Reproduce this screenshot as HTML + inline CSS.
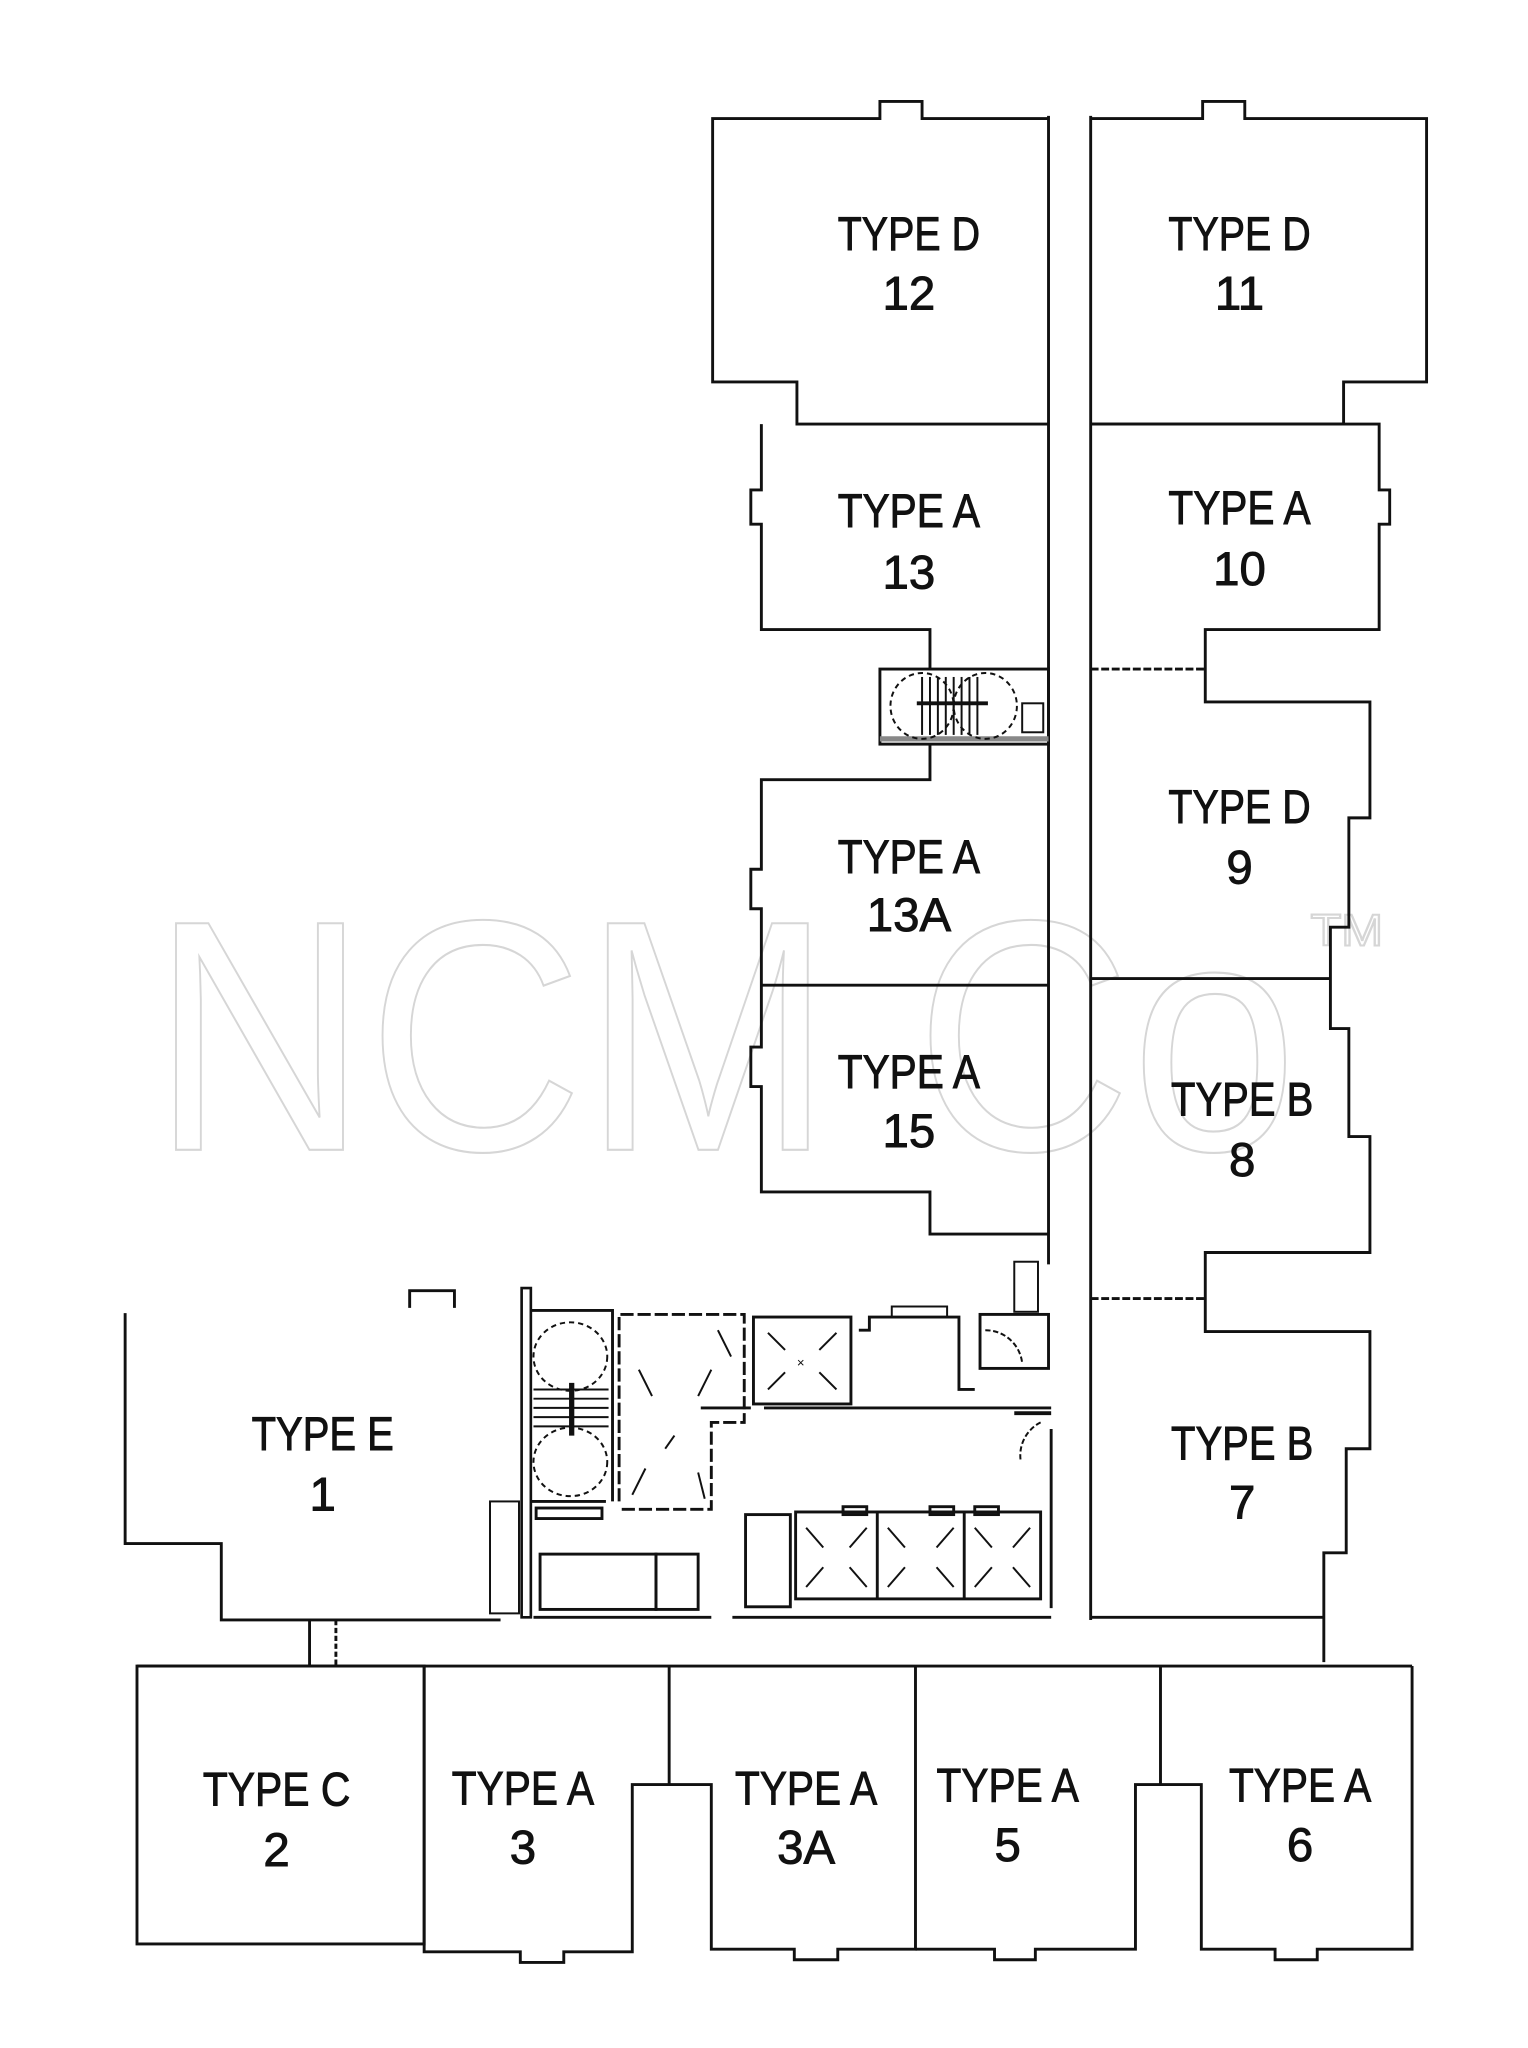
<!DOCTYPE html>
<html><head><meta charset="utf-8"><style>
html,body{margin:0;padding:0;background:#fff;}
svg{display:block;}
text{font-family:"Liberation Sans",sans-serif;}
</style></head><body>
<svg width="1528" height="2048" viewBox="0 0 1160 1555" preserveAspectRatio="none" xmlns="http://www.w3.org/2000/svg">
<rect width="1160" height="1555" fill="#fff"/>
<!-- watermark -->
<g fill="#fff" stroke="#d6d6d6" stroke-width="1.6">
<text x="115" y="873" font-size="250" textLength="870" lengthAdjust="spacingAndGlyphs">NCM Co</text>
<text x="995" y="718" font-size="34" textLength="55" lengthAdjust="spacingAndGlyphs">TM</text>
</g>
<g fill="none" stroke="#111" stroke-width="2.2" stroke-linejoin="miter">
<!-- corridor -->
<line x1="796" y1="88" x2="796" y2="960"/>
<line x1="828" y1="88" x2="828" y2="1230"/>
<!-- Type D 12 -->
<polyline points="796,90 700,90 700,77 668,77 668,90 541,90 541,290 605,290 605,322 796,322"/>
<!-- Type D 11 -->
<polyline points="828,90 913,90 913,77 945,77 945,90 1083,90 1083,290 1020,290 1020,322 828,322"/>
<!-- Type A 13 -->
<polyline points="578,322 578,372 570,372 570,398 578,398 578,478 706,478 706,508"/>
<!-- stair -->
<rect x="668" y="508" width="128" height="57"/>
<line x1="668" y1="561" x2="796" y2="561" stroke="#888" stroke-width="4"/>
<ellipse cx="700" cy="536" rx="24" ry="25" stroke-dasharray="4,3" stroke-width="1.5"/>
<ellipse cx="748" cy="536" rx="24" ry="25" stroke-dasharray="4,3" stroke-width="1.5"/>
<g stroke-width="1.5"><line x1="700" y1="514" x2="700" y2="558"/><line x1="706" y1="514" x2="706" y2="558"/><line x1="712" y1="514" x2="712" y2="558"/><line x1="718" y1="514" x2="718" y2="558"/><line x1="724" y1="514" x2="724" y2="558"/><line x1="730" y1="514" x2="730" y2="558"/><line x1="736" y1="514" x2="736" y2="558"/><line x1="742" y1="514" x2="742" y2="558"/></g>
<line x1="696" y1="534" x2="750" y2="534" stroke-width="3"/>
<rect x="776" y="534" width="16" height="22" stroke-width="1.5"/>
<!-- Type A 13A / 15 -->
<polyline points="706,565 706,592 578,592 578,660 570,660 570,690 578,690 578,795 570,795 570,825 578,825 578,905 706,905 706,937 796,937"/>
<line x1="578" y1="748" x2="796" y2="748"/>
<!-- Type A 10, D9, B8, B7 -->
<polyline points="828,322 1047,322 1047,372 1055,372 1055,398 1047,398 1047,478 915,478 915,533 1040,533 1040,621 1024,621 1024,704 1010,704 1010,781 1024,781 1024,863 1040,863 1040,951 915,951 915,1011 1040,1011 1040,1100 1022,1100 1022,1179 1005,1179 1005,1262"/>
<line x1="828" y1="1228" x2="1005" y2="1228"/>
<line x1="828" y1="508" x2="915" y2="508" stroke-dasharray="6,2"/>
<line x1="828" y1="743" x2="1010" y2="743"/>
<line x1="828" y1="986" x2="915" y2="986" stroke-dasharray="6,2"/>
<!-- Type E -->
<polyline points="95,997 95,1172 168,1172 168,1230 380,1230"/>
<polyline points="311,993 311,980 345,980 345,993"/>
<line x1="235" y1="1230" x2="235" y2="1265"/>
<line x1="255" y1="1230" x2="255" y2="1265" stroke-dasharray="4,2"/>
<!-- core -->
<rect x="396" y="978" width="7" height="250" stroke-width="2"/>
<polyline points="403,995 465,995 465,1140"/>
<line x1="403" y1="1140" x2="460" y2="1140"/>
<ellipse cx="433" cy="1030" rx="28" ry="26" stroke-dasharray="4,3" stroke-width="1.5"/>
<ellipse cx="433" cy="1110" rx="28" ry="26" stroke-dasharray="4,3" stroke-width="1.5"/>
<g stroke-width="1.5"><line x1="405" y1="1055" x2="462" y2="1055"/><line x1="405" y1="1062" x2="462" y2="1062"/><line x1="405" y1="1069" x2="462" y2="1069"/><line x1="405" y1="1076" x2="462" y2="1076"/><line x1="405" y1="1083" x2="462" y2="1083"/></g>
<line x1="434" y1="1050" x2="434" y2="1090" stroke-width="4"/>
<polyline points="470,1140 470,998 565,998 565,1080 540,1080 540,1146 470,1146" stroke-dasharray="10,3"/>
<g stroke-width="1.5"><line x1="485" y1="1040" x2="495" y2="1060"/><line x1="530" y1="1060" x2="540" y2="1040"/><line x1="505" y1="1100" x2="512" y2="1090"/><line x1="480" y1="1135" x2="490" y2="1115"/><line x1="530" y1="1118" x2="535" y2="1138"/><line x1="545" y1="1010" x2="555" y2="1030"/></g>
<rect x="572" y="1000" width="74" height="66"/>
<g stroke-width="1.5"><line x1="583" y1="1012" x2="596" y2="1025"/><line x1="635" y1="1012" x2="622" y2="1025"/><line x1="583" y1="1055" x2="596" y2="1042"/><line x1="635" y1="1055" x2="622" y2="1042"/></g>
<text x="605" y="1038" font-size="10" fill="#111" stroke="none">×</text>
<polyline points="652,1010 660,1010 660,1000 728,1000 728,1055 740,1055"/>
<rect x="677" y="992" width="42" height="8" stroke-width="1.5"/>
<rect x="744" y="998" width="52" height="41"/>
<rect x="770" y="958" width="18" height="38" stroke-width="1.5"/>
<path d="M748,1010 A28,28 0 0 1 776,1035" stroke-width="1.5" stroke-dasharray="4,2"/>
<polyline points="532,1069 570,1069"/>
<polyline points="580,1069 798,1069"/>
<line x1="770" y1="1073" x2="798" y2="1073" stroke-width="3"/>
<path d="M790,1080 A28,28 0 0 0 775,1110" stroke-width="1.5" stroke-dasharray="4,2"/>
<line x1="798" y1="1085" x2="798" y2="1221"/>
<rect x="604" y="1148" width="186" height="66"/>
<line x1="666" y1="1148" x2="666" y2="1214"/>
<line x1="732" y1="1148" x2="732" y2="1214"/>
<g stroke-width="1.5">
<line x1="612" y1="1160" x2="625" y2="1175"/><line x1="658" y1="1160" x2="645" y2="1175"/><line x1="612" y1="1205" x2="625" y2="1190"/><line x1="658" y1="1205" x2="645" y2="1190"/>
<line x1="674" y1="1160" x2="687" y2="1175"/><line x1="724" y1="1160" x2="711" y2="1175"/><line x1="674" y1="1205" x2="687" y2="1190"/><line x1="724" y1="1205" x2="711" y2="1190"/>
<line x1="740" y1="1160" x2="753" y2="1175"/><line x1="782" y1="1160" x2="769" y2="1175"/><line x1="740" y1="1205" x2="753" y2="1190"/><line x1="782" y1="1205" x2="769" y2="1190"/>
</g>
<rect x="566" y="1150" width="34" height="70"/>
<rect x="640" y="1144" width="18" height="6"/><rect x="706" y="1144" width="18" height="6"/><rect x="740" y="1144" width="18" height="6"/>
<rect x="407" y="1145" width="50" height="8"/>
<rect x="410" y="1180" width="88" height="42"/>
<rect x="498" y="1180" width="32" height="42"/>
<rect x="372" y="1140" width="22" height="85" stroke-width="1.5"/>
<line x1="405" y1="1228" x2="540" y2="1228"/>
<line x1="556" y1="1228" x2="798" y2="1228"/>
<!-- bottom row -->
<line x1="104" y1="1265" x2="1072" y2="1265"/>
<rect x="104" y="1265" width="218" height="211"/>
<polyline points="322,1265 322,1482 395,1482 395,1490 428,1490 428,1482 480,1482 480,1355 508,1355 508,1265"/>
<polyline points="508,1355 540,1355 540,1480 603,1480 603,1488 636,1488 636,1480 695,1480 695,1265"/>
<polyline points="695,1480 755,1480 755,1488 786,1488 786,1480 862,1480 862,1355 881,1355 881,1265"/>
<polyline points="881,1355 912,1355 912,1480 968,1480 968,1488 1000,1488 1000,1480 1072,1480 1072,1265"/>
</g>
<g fill="#111" stroke="#111" stroke-width="0.7" font-size="36" text-anchor="middle">
<text x="690" y="190" textLength="108" lengthAdjust="spacingAndGlyphs">TYPE D</text><text x="690" y="235">12</text>
<text x="941" y="190" textLength="108" lengthAdjust="spacingAndGlyphs">TYPE D</text><text x="941" y="235">11</text>
<text x="690" y="400" textLength="108" lengthAdjust="spacingAndGlyphs">TYPE A</text><text x="690" y="447">13</text>
<text x="941" y="398" textLength="108" lengthAdjust="spacingAndGlyphs">TYPE A</text><text x="941" y="444">10</text>
<text x="941" y="625" textLength="108" lengthAdjust="spacingAndGlyphs">TYPE D</text><text x="941" y="671">9</text>
<text x="690" y="663" textLength="108" lengthAdjust="spacingAndGlyphs">TYPE A</text><text x="690" y="707">13A</text>
<text x="690" y="826" textLength="108" lengthAdjust="spacingAndGlyphs">TYPE A</text><text x="690" y="871">15</text>
<text x="943" y="847" textLength="108" lengthAdjust="spacingAndGlyphs">TYPE B</text><text x="943" y="893">8</text>
<text x="943" y="1108" textLength="108" lengthAdjust="spacingAndGlyphs">TYPE B</text><text x="943" y="1153">7</text>
<text x="245" y="1101" textLength="108" lengthAdjust="spacingAndGlyphs">TYPE E</text><text x="245" y="1147">1</text>
<text x="210" y="1371" textLength="112" lengthAdjust="spacingAndGlyphs">TYPE C</text><text x="210" y="1417">2</text>
<text x="397" y="1370" textLength="108" lengthAdjust="spacingAndGlyphs">TYPE A</text><text x="397" y="1415">3</text>
<text x="612" y="1370" textLength="108" lengthAdjust="spacingAndGlyphs">TYPE A</text><text x="612" y="1415">3A</text>
<text x="765" y="1368" textLength="108" lengthAdjust="spacingAndGlyphs">TYPE A</text><text x="765" y="1413">5</text>
<text x="987" y="1368" textLength="108" lengthAdjust="spacingAndGlyphs">TYPE A</text><text x="987" y="1413">6</text>
</g>
</svg>
</body></html>
